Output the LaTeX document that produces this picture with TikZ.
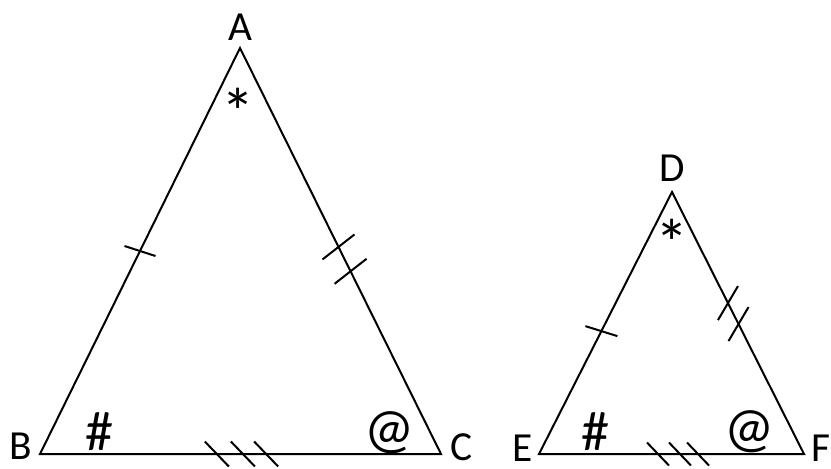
\documentclass[tikz,border=0pt]{standalone}
\usepackage{fontspec}
\setmainfont{Carlito}
\usetikzlibrary{calc}

\begin{document}
\begin{tikzpicture}[
  x=0.75pt, y=-0.75pt,
  side/.style={line width=1.5pt, line join=miter},
  tickmark/.style={line width=1.5pt},
  vertex/.style={inner sep=0pt, font=\fontsize{31}{31}\selectfont},
  anglemark/.style={inner sep=0pt, font=\fontsize{42}{42}\selectfont},
  starmark/.style={inner sep=0pt, font=\fontsize{50}{50}\selectfont}
]
  \useasboundingbox (0,0) rectangle (831,468);
  % large triangle
  \coordinate (A) at (240,48);
  \coordinate (B) at (40,454);
  \coordinate (C) at (441,454);
  \draw[side] (A) -- (B) -- (C) -- cycle;
  \node[vertex] (labA) at (240,27) {A};
  \node[vertex] (labB) at (21,446) {B};
  \node[vertex] (labC) at (462,447) {C};
  \node[starmark] (angA) at (238,112) {*};
  \node[anglemark] (angB) at (99,431.5) {\#};
  \node[anglemark] (angC) at (389.5,433) {@};
  % small triangle
  \coordinate (D) at (672,192);
  \coordinate (E) at (539,454);
  \coordinate (F) at (804,454);
  \draw[side] (D) -- (E) -- (F) -- cycle;
  \node[vertex] (labD) at (672,168) {D};
  \node[vertex] (labE) at (523,448) {E};
  \node[vertex] (labF) at (821,448) {F};
  \node[starmark] (angD) at (672,243) {*};
  \node[anglemark] (angE) at (595,432) {\#};
  \node[anglemark] (angF) at (750,432) {@};
  % tick marks on AB and DE
  \coordinate (ab) at ($(B)!0.5!(A)$);
  \draw[tickmark] ($(ab)+(-15.5,-5)$) -- ($(ab)+(15.5,5)$);
  \coordinate (de) at ($(E)!0.469!(D)$);
  \draw[tickmark] ($(de)+(-16,-5)$) -- ($(de)+(16,5)$);
  % double ticks on AC and DF
  \foreach \t in {0.49,0.55} {
    \coordinate (ac) at ($(A)!\t!(C)$);
    \draw[tickmark] ($(ac)+(-16,12.5)$) -- ($(ac)+(16,-12.5)$);
  }
  \foreach \t in {0.424,0.504} {
    \coordinate (df) at ($(D)!\t!(F)$);
    \draw[tickmark] ($(df)+(-10,17)$) -- ($(df)+(10,-17)$);
  }
  % triple ticks on BC and EF
  \foreach \t in {0.441,0.506,0.564} {
    \coordinate (bc) at ($(B)!\t!(C)$);
    \draw[tickmark] ($(bc)+(-12,-12.5)$) -- ($(bc)+(12,12.5)$);
  }
  \foreach \t in {0.449,0.532,0.6} {
    \coordinate (ef) at ($(E)!\t!(F)$);
    \draw[tickmark] ($(ef)+(-11,-11.5)$) -- ($(ef)+(11,11.5)$);
  }
\end{tikzpicture}
\end{document}
